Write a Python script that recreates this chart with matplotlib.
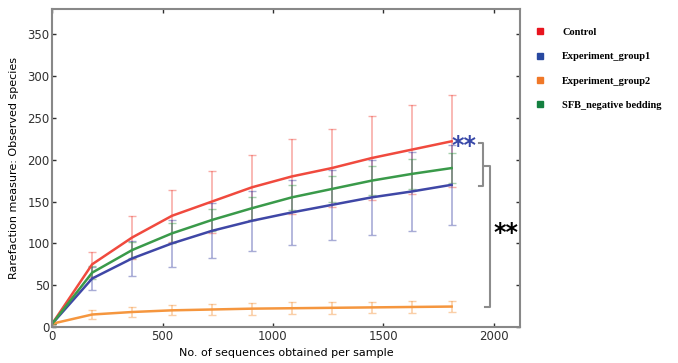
import numpy as np
import matplotlib.pyplot as plt

depth = [0, 181, 362, 543, 724, 905, 1086, 1267, 1448, 1629, 1810]

control = [4, 75, 107, 133, 150, 167, 180, 190, 202, 212, 222]
control_err = [0, 15, 26, 31, 37, 39, 45, 47, 50, 53, 55]

group1 = [4, 58, 82, 100, 115, 127, 137, 146, 155, 162, 170]
group1_err = [0, 14, 21, 28, 33, 36, 39, 42, 45, 47, 48]

group2 = [4, 15, 18, 20, 21, 22, 22.5, 23, 23.5, 24, 24.5]
group2_err = [0, 5, 6, 6, 7, 7, 7, 7, 7, 7, 7]

sfb = [4, 65, 92, 112, 128, 142, 155, 165, 175, 183, 190]
sfb_err = [0, 8, 10, 12, 13, 14, 15, 16, 17, 18, 18]

labels = ['Control', 'Experiment_group1', 'Experiment_group2', 'SFB_negative bedding']
line_colors = ['#f04a3e', '#3f47a6', '#f5963e', '#3a9a4a']
legend_colors = ['#e8141e', '#2848a0', '#f07828', '#148040']

fig = plt.figure(figsize=(6.78, 3.63), dpi=100)
ax = fig.add_axes([0.077, 0.099, 0.69, 0.876])

series = [(control, control_err), (group1, group1_err), (group2, group2_err), (sfb, sfb_err)]
# faint error bars first, lines on top
for (vals, err), c in zip(series, line_colors):
    ax.errorbar(depth, vals, yerr=err, fmt='none', ecolor=c, elinewidth=1.2, capsize=3,
                capthick=1.0, alpha=0.45)
for (vals, err), c in zip(series, line_colors):
    ax.plot(depth, vals, color=c, lw=1.8)

# significance brackets
gray = '#8c8c8c'
ax.plot([1935, 1953, 1953, 1935], [220, 220, 169, 169], color=gray, lw=1.5, clip_on=False)
ax.plot([1960, 1984, 1984, 1960], [193, 193, 24, 24], color=gray, lw=1.5, clip_on=False)
ax.text(1865, 216, '**', color='#3848a8', fontsize=17, fontweight='bold', ha='center', va='center')
ax.text(2058, 113, '**', color='black', fontsize=17, fontweight='bold', ha='center', va='center')

ax.set_xlim(0, 2120)
ax.set_ylim(0, 380)
ax.set_xticks([0, 500, 1000, 1500, 2000])
ax.set_yticks(np.arange(0, 351, 50))
ax.tick_params(direction='in', length=3, width=1, top=True, right=True, labelsize=8.5,
               colors='#303030', pad=2)
for s in ax.spines.values():
    s.set_color('#888888')
    s.set_linewidth(1.5)
ax.set_xlabel('No. of sequences obtained per sample', fontsize=8, labelpad=4)
ax.set_ylabel('Rarefaction measure: Observed species', fontsize=8, labelpad=6)

handles = [plt.Line2D([], [], marker='s', ls='none', color=c, markersize=5) for c in legend_colors]
leg = ax.legend(handles, labels, loc='upper left', bbox_to_anchor=(1.012, 0.955), frameon=False,
                prop={'family': 'Liberation Serif', 'weight': 'bold', 'size': 7.5},
                labelspacing=1.45, handletextpad=1.1, borderaxespad=0)

fig.savefig('out.png', dpi=100)
